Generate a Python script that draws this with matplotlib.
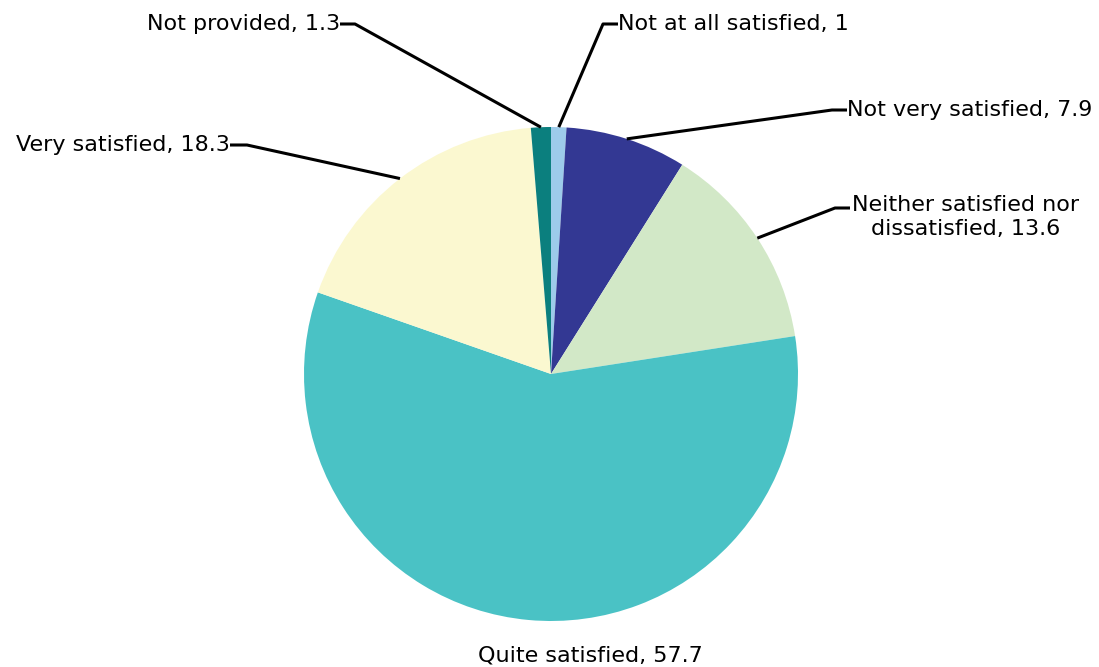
import numpy as np
import matplotlib.pyplot as plt

# Satisfaction survey responses (%)
categories = ["Not at all satisfied", "Not very satisfied",
              "Neither satisfied nor\ndissatisfied", "Quite satisfied",
              "Very satisfied", "Not provided"]
values = [1, 7.9, 13.6, 57.7, 18.3, 1.3]
colors = ["#9dcbea", "#333893", "#d2e8c7", "#4ac2c5", "#fbf8d0", "#0b7f7e"]

W, H = 1099, 667
fig = plt.figure(figsize=(W / 100, H / 100), dpi=100)
ax = fig.add_axes([0, 0, 1, 1])

cx, cy, r = 551, H - 374, 247
wedges, _ = ax.pie(values, colors=colors, startangle=90, counterclock=False,
                   center=(cx, cy), radius=r, frame=True)
ax.set_xlim(0, W)
ax.set_ylim(0, H)
ax.set_aspect("equal")
ax.axis("off")

# label layout: (elbow x, elbow y, line end x, text x, text y, ha), pixels from top-left
layout = [
    (603, 24, 618, 618, 24, "left"),
    (832, 110, 847, 847, 110, "left"),
    (835, 208, 850, 966, 217, "center"),
    (None, None, None, 590, 655, "center"),
    (247, 145, 230, 230, 145, "right"),
    (355, 24, 340, 340, 24, "right"),
]

for w, cat, val, (ex, ey, lx, tx, ty, ha) in zip(wedges, categories, values, layout):
    label = f"{cat}, {val:g}"
    if ex is not None:
        ang = np.deg2rad((w.theta1 + w.theta2) / 2)
        px, py = cx + r * np.cos(ang), cy + r * np.sin(ang)
        ax.plot([px, ex, lx], [py, H - ey, H - ey], color="black", lw=2.2,
                solid_capstyle="butt", zorder=3)
    ax.text(tx, H - ty, label, ha=ha, va="center", fontsize=16,
            family="DejaVu Sans", color="black", linespacing=1.2)

fig.savefig("out.png", dpi=100)
